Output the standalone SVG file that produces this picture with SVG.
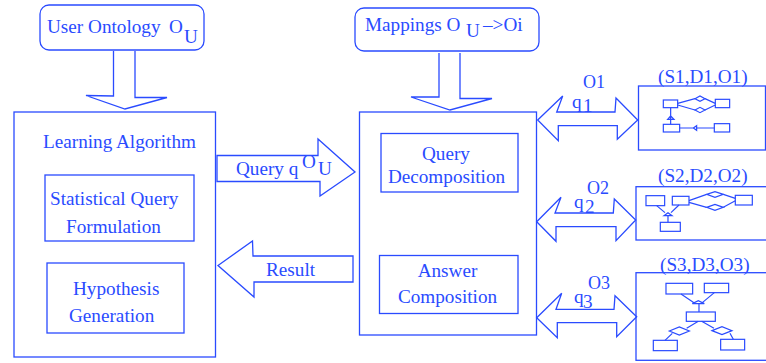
<svg xmlns="http://www.w3.org/2000/svg" width="766" height="363" viewBox="0 0 766 363">
<style>
text{font-family:"Liberation Serif","Times New Roman",serif;font-size:19.2px;fill:#2a4bff}
.c{text-anchor:middle}
.s{font-size:18px}
rect,path,line{fill:none;stroke:#2a4bff;stroke-width:1.3}
.arrow path{fill:#fff}
.ic rect,.ic path,.ic line{stroke-width:3.6}
</style>
<g id="connectors" class="arrow">
<path d="M113.500 51V96L86 95.500L125 109L167 97.500H135V51"/>
<path d="M439 53V97H411L450 110L492 98.500H460V53"/>
<path d="M217 155.500H318V139L355 172L320 196V181.500H217Z"/>
<path d="M353 256H253L252.500 241L218 265.500L254 297V282H353Z"/>
<path d="M537.700 120L562.700 96L556.700 112H615L616 98L637.700 120L617.300 139.300V125.700H558.300V140.700Z"/>
<path d="M536.700 221.700L561 197.300L555 213H613.300L614.300 199L635.700 220L616 240.700V226.700H556V241.300Z"/>
<path d="M536.700 317.700L561.700 293.300L556 309.300H614L615 295.700L636.700 316.700L616.700 336.700V322.700H557.300V337.700Z"/>
</g>
<g id="user-ontology"><rect x="40" y="5" width="164" height="45" rx="9"/>
<text x="47" y="33">User Ontology</text><text x="169" y="33">O</text><text x="184" y="43">U</text></g>
<g id="mappings"><rect x="355" y="8" width="184" height="43" rx="9"/>
<text x="365" y="31">Mappings O</text><text x="466" y="37">U</text><text x="483" y="31">–&gt;Oi</text></g>
<g id="learning-algorithm"><rect x="14" y="112" width="201.500" height="245"/>
<text x="43" y="148">Learning Algorithm</text></g>
<g id="statistical-query"><rect x="45" y="175" width="149" height="66"/>
<text x="50" y="205">Statistical Query</text><text x="66" y="233">Formulation</text></g>
<g id="hypothesis"><rect x="47" y="263" width="137" height="70"/>
<text x="73" y="295">Hypothesis</text><text x="69" y="322">Generation</text></g>
<g id="query-label"><text x="236" y="175">Query q</text><text x="302" y="168">O</text><text x="318" y="175">U</text></g>
<g id="result-label"><text x="266" y="276">Result</text></g>
<g id="mediator"><rect x="359.500" y="112" width="177" height="223"/></g>
<g id="query-decomposition"><rect x="381" y="133.500" width="137" height="58.500"/>
<text class="c" x="446" y="160">Query</text><text class="c" x="446.500" y="183">Decomposition</text></g>
<g id="answer-composition"><rect x="379.500" y="255.500" width="138.500" height="58"/>
<text class="c" x="447.500" y="277">Answer</text><text class="c" x="447.500" y="303">Composition</text></g>
<g id="q1-label"><text class="s" x="583" y="88">O1</text><text x="572" y="108">q</text><text x="583" y="112">1</text></g>
<g id="q2-label"><text class="s" x="587" y="194">O2</text><text x="574" y="207.500">q</text><text x="585" y="212.500">2</text></g>
<g id="q3-label"><text class="s" x="588" y="289">O3</text><text x="574" y="303">q</text><text x="583" y="307.500">3</text></g>
<g id="source-1"><text x="658" y="83">(S1,D1,O1)</text><rect x="638.500" y="86" width="127" height="64"/>
<g class="ic" transform="translate(530 60) scale(.3333)">
<rect x="400" y="120" width="43" height="23"/><rect x="556" y="118" width="43" height="25"/>
<path d="M443 130L495 116M525 116L556 130M443 135L495 150M525 150L556 135"/>
<path d="M495 116L510 108L525 116L510 124ZM495 150L510 142L525 150L510 158Z"/>
<path d="M422 143V193M413 178L422 168L432 178Z"/>
<rect x="400" y="193" width="49" height="23"/><rect x="553" y="191" width="46" height="25"/>
<path d="M449 204H490M500 204H553M490 204L500 197V211Z"/>
</g></g>
<g id="source-2"><text x="658" y="181.500">(S2,D2,O2)</text><rect x="636" y="186.700" width="135" height="53.300"/>
<g class="ic" transform="translate(530 165) scale(.3333)">
<rect x="348" y="92" width="56" height="30"/><rect x="427" y="94" width="50" height="26"/><rect x="616" y="91" width="51" height="29"/>
<path d="M530 88L555 80L580 88L555 97ZM530 127L555 118L580 127L555 136Z"/>
<path d="M477 107L530 88M580 88L616 100M477 112L530 127M580 127L616 107"/>
<path d="M402 152L414 143L426 152ZM380 122L405 143M447 120L423 143M414 152V172"/>
<rect x="391" y="172" width="60" height="27"/>
</g></g>
<g id="source-3"><text x="660" y="270.500">(S3,D3,O3)</text><rect x="636" y="272.700" width="135" height="87.600"/>
<g class="ic" transform="translate(530 250) scale(.3333)">
<rect x="408" y="100" width="80" height="32"/><rect x="523" y="100" width="73" height="28"/><rect x="469" y="186" width="87" height="28"/><rect x="370" y="271" width="72" height="31"/><rect x="572" y="268" width="72" height="32"/>
<path d="M487 161L505 152L523 161ZM453 132L492 158M553 128L517 158M507 161V186"/>
<path d="M418 243L448 231L478 243L448 255ZM546 242L576 230L606 242L576 254Z"/>
<path d="M505 214L470 235M405 271L427 250M515 214L552 235M600 250L610 268"/>
</g></g>
</svg>
